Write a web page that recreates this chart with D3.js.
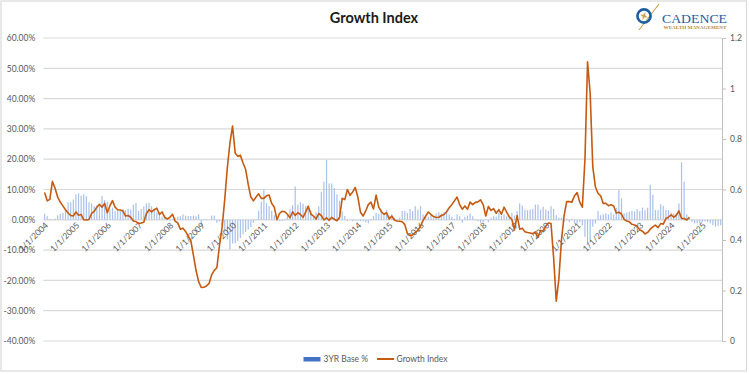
<!DOCTYPE html>
<html lang="en">
<head>
    <meta charset="UTF-8">
    <title>Growth Index</title>
    <script src="https://cdn.jsdelivr.net/npm/d3@7"></script>
    <style>
        body { margin: 0; background: #fff; }
        text { font-family: Lato, "Open Sans", sans-serif; }
    </style>
</head>
<body>
<script>
    var width = 749
    var height = 374

    // one category per month, Jan 2004 .. Aug 2025
    var months = d3.timeMonth.range(new Date(2004, 0, 1), new Date(2025, 8, 1));

    var yearLabels = ['1/1/2004', '1/1/2005', '1/1/2006', '1/1/2007', '1/1/2008', '1/1/2009',
        '1/1/2010', '1/1/2011', '1/1/2012', '1/1/2013', '1/1/2014', '1/1/2015', '1/1/2016',
        '1/1/2017', '1/1/2018', '1/1/2019', '1/1/2020', '1/1/2021', '1/1/2022', '1/1/2023',
        '1/1/2024', '1/1/2025'];

    var leftTicks = [-0.4, -0.3, -0.2, -0.1, 0, 0.1, 0.2, 0.3, 0.4, 0.5, 0.6];
    var rightTicks = [0, 0.2, 0.4, 0.6, 0.8, 1, 1.2];

    // 3YR Base %, in percent
    var base3yr = [
        2.0, 1.2, 0.3, 0.2, 0.4, 1.5, 2.0, 2.3, 3.2, 5.8, 5.8, 6.7,
        8.4, 8.7, 8.0, 8.4, 7.8, 5.8, 5.4, 4.5, 4.7, 4.5, 7.8, 6.5,
        6.0, 3.4, 4.0, 2.9, 3.4, 2.9, 3.6, 3.2, 3.6, 3.4, 5.0, 5.6,
        2.9, 3.6, 4.4, 5.4, 5.6, 4.5, 3.4, 2.4, 2.5, 1.0, 1.4, 0.7,
        0.3, 0.3, 0.7, 1.0, 1.2, 1.8, 1.4, 1.2, 1.2, 1.4, 1.2, 1.8,
        -1.9, 0.3, 0.3, 0.1, 1.4, 1.4, -1.0, -0.5, -2.0, -4.0, -6.5, -9.8,
        -7.8, -7.8, -7.0, -6.0, -4.8, -4.0, -3.2, -2.4, -1.0, 0.3, 3.0, 6.0,
        10.0, 5.5, 4.5, 3.0, 1.5, 0.3, -0.4, -0.4, 0.3, 1.5, 3.5, 4.8,
        11.0, 5.0, 5.8, 5.3, 4.6, 4.2, 3.0, 1.0, 2.5, 4.5, 9.3, 12.6,
        19.8, 12.0, 12.0, 10.5, 8.4, 6.3, 2.8, 1.3, -0.4, -0.1, -0.4, -0.2,
        -0.2, -0.4, -0.5, -0.8, -1.2, 0.3, 1.2, 2.3, 2.0, 3.4, 2.3, 3.2,
        1.4, 1.8, 0.7, 0.3, 0.7, 2.9, 2.9, 2.3, 3.6, 2.9, 4.5, 3.4,
        4.5, 1.8, 1.0, 1.0, 1.4, 0.7, 2.1, 2.5, 2.1, 2.5, 2.9, 1.8,
        1.0, 0.3, 1.8, 1.2, -1.0, 1.0, 1.4, 2.1, 1.2, 0.3, -0.4, -1.0,
        -0.8, 0.1, -0.8, 0.7, 1.2, 1.0, 2.3, 1.4, 1.8, 1.2, 1.0, 2.3,
        1.4, 2.9, 5.4, 4.7, 3.4, 3.2, 3.4, 3.6, 5.0, 5.0, 3.4, 4.3,
        3.4, 2.9, 4.5, 3.6, 1.5, 0.7, 0.7, -0.7, 0.4, -0.7, 0.4, -1.2,
        -1.2, -0.7, -1.8, -5.6, -8.4, -6.7, -2.3, -1.2, 2.9, 1.5, 1.8, 2.1,
        1.8, 2.4, 1.8, 4.0, 9.8, 7.1, 2.1, 2.4, 2.7, 2.9, 2.7, 3.5,
        2.9, 4.0, 3.2, 4.0, 11.5, 8.2, 3.2, 3.2, 5.1, 4.6, 3.2, 3.2,
        2.4, 2.1, 2.1, 5.4, 19.0, 12.6, 1.8, 0.8, -0.7, -1.2, -1.2, -1.2,
        -0.7, -0.5, -0.7, -1.2, -1.8, -2.3, -2.0, -1.8
    ];

    // Growth Index (right axis), Jan 2004 .. Aug 2024
    var growthIndex = [
        0.588, 0.555, 0.561, 0.632, 0.605, 0.570, 0.550, 0.535, 0.520, 0.507, 0.497, 0.495,
        0.511, 0.498, 0.501, 0.480, 0.479, 0.481, 0.505, 0.513, 0.530, 0.541, 0.530, 0.545,
        0.508, 0.535, 0.556, 0.530, 0.520, 0.519, 0.515, 0.495, 0.497, 0.490, 0.475, 0.473,
        0.466, 0.467, 0.470, 0.505, 0.520, 0.511, 0.520, 0.526, 0.501, 0.511, 0.490, 0.483,
        0.490, 0.502, 0.474, 0.468, 0.443, 0.447, 0.434, 0.415, 0.398, 0.340, 0.280, 0.235,
        0.212, 0.213, 0.218, 0.228, 0.262, 0.280, 0.290, 0.380, 0.450, 0.560, 0.686, 0.785,
        0.851, 0.745, 0.732, 0.736, 0.705, 0.680, 0.620, 0.570, 0.555, 0.570, 0.583, 0.565,
        0.565, 0.575, 0.578, 0.545, 0.530, 0.480, 0.505, 0.514, 0.512, 0.502, 0.488, 0.512,
        0.497, 0.508, 0.501, 0.490, 0.510, 0.534, 0.503, 0.495, 0.483, 0.505, 0.497, 0.480,
        0.488, 0.478, 0.490, 0.482, 0.476, 0.490, 0.565, 0.560, 0.600, 0.577, 0.590, 0.608,
        0.570, 0.510, 0.495, 0.515, 0.540, 0.550, 0.523, 0.578, 0.530, 0.512, 0.502, 0.508,
        0.483, 0.495, 0.479, 0.475, 0.474, 0.472, 0.461, 0.425, 0.417, 0.420, 0.430, 0.438,
        0.455, 0.478, 0.495, 0.511, 0.501, 0.493, 0.489, 0.490, 0.497, 0.501, 0.512, 0.528,
        0.540, 0.555, 0.570, 0.540, 0.522, 0.535, 0.522, 0.550, 0.540, 0.549, 0.551, 0.559,
        0.540, 0.495, 0.533, 0.517, 0.524, 0.506, 0.520, 0.502, 0.530, 0.510, 0.492, 0.481,
        0.440, 0.497, 0.443, 0.447, 0.433, 0.430, 0.428, 0.425, 0.432, 0.410, 0.438, 0.435,
        0.455, 0.467, 0.465, 0.330, 0.158, 0.245, 0.400, 0.495, 0.552, 0.552, 0.550, 0.575,
        0.588, 0.550, 0.530, 0.720, 1.106, 0.980, 0.690, 0.610, 0.585, 0.575, 0.545, 0.545,
        0.536, 0.540, 0.535, 0.507, 0.510, 0.503, 0.482, 0.475, 0.472, 0.462, 0.459, 0.455,
        0.440, 0.435, 0.424, 0.430, 0.443, 0.452, 0.459, 0.449, 0.465, 0.463, 0.485, 0.490,
        0.500, 0.490, 0.498, 0.515, 0.485, 0.485, 0.479, 0.490
    ];

    var plotLeft = 43.3, plotRight = 722, plotTop = 38, plotBottom = 341;
    var barColor = '#a9c1ea', lineColor = '#c55a11', grey = '#595959';

    var svg = d3.select('body')
        .append('svg')
        .attr('width', width)
        .attr('height', height);

    svg.append('rect')
        .attr('x', 1).attr('y', 1)
        .attr('width', 745.5).attr('height', 370)
        .attr('fill', '#fff')
        .attr('stroke', '#d9d9d9')
        .attr('stroke-width', 1.2);

    var x = d3.scaleBand()
        .domain(d3.range(months.length))
        .range([plotLeft, plotRight]);
    var bw = x.bandwidth();

    var yL = d3.scaleLinear().domain([-0.4, 0.6]).range([plotBottom, plotTop]);
    var yR = d3.scaleLinear().domain([0, 1.2]).range([plotBottom, plotTop]);

    // horizontal gridlines
    svg.append('g')
        .selectAll('line')
        .data(leftTicks)
        .join('line')
        .attr('x1', plotLeft)
        .attr('x2', plotRight)
        .attr('y1', d => yL(d))
        .attr('y2', d => yL(d))
        .attr('stroke', '#d9d9d9')
        .attr('stroke-width', 1.2);

    // left axis, percent labels
    var pct = d3.format('.2%');
    var leftAxis = svg.append('g')
        .attr('transform', 'translate(' + plotLeft + ',0)')
        .call(d3.axisLeft(yL).tickValues(leftTicks).tickSize(0).tickPadding(8)
            .tickFormat(d => pct(d).replace('\u2212', '-')));
    leftAxis.select('.domain').remove();
    leftAxis.selectAll('text')
        .attr('fill', grey)
        .style('font-size', '8.5px');

    // right axis
    var rightAxis = svg.append('g')
        .attr('transform', 'translate(' + plotRight + ',0)')
        .call(d3.axisRight(yR).tickValues(rightTicks).tickSize(4).tickSizeOuter(0).tickPadding(4)
            .tickFormat(d => String(d)));
    rightAxis.select('.domain').attr('stroke', '#bfbfbf');
    rightAxis.selectAll('line').attr('stroke', '#bfbfbf');
    rightAxis.selectAll('text')
        .attr('fill', grey)
        .style('font-size', '8.5px');

    // bars
    svg.append('g')
        .selectAll('rect')
        .data(base3yr)
        .join('rect')
        .attr('x', (d, i) => x(i) + bw / 2 - 0.6)
        .attr('width', 1.2)
        .attr('y', d => Math.min(yL(d / 100), yL(0)))
        .attr('height', d => Math.abs(yL(d / 100) - yL(0)))
        .attr('fill', barColor);

    // year labels on the category axis
    svg.append('g')
        .selectAll('text')
        .data(yearLabels)
        .join('text')
        .attr('transform', (d, k) => 'translate(' + (x(k * 12) + bw / 2 + 2) + ',' + (yL(0) + 4) + ') rotate(-45)')
        .attr('text-anchor', 'end')
        .attr('dy', '0.35em')
        .attr('fill', grey)
        .style('font-size', '8.5px')
        .text(d => d);

    // growth index line
    var line = d3.line()
        .x((d, i) => x(i) + bw / 2)
        .y(d => yR(d));

    svg.append('path')
        .datum(growthIndex)
        .attr('d', line)
        .attr('fill', 'none')
        .attr('stroke', lineColor)
        .attr('stroke-width', 1.6)
        .attr('stroke-linejoin', 'round');

    // title
    svg.append('text')
        .attr('x', 374)
        .attr('y', 23)
        .attr('text-anchor', 'middle')
        .style('font-size', '14.5px')
        .style('font-weight', 'bold')
        .attr('fill', '#1a1a1a')
        .text('Growth Index');

    // legend
    var legend = svg.append('g');
    legend.append('rect')
        .attr('x', 303.5).attr('y', 357)
        .attr('width', 17).attr('height', 4.5)
        .attr('fill', '#4472c4');
    legend.append('text')
        .attr('x', 323.5).attr('y', 362)
        .attr('fill', grey)
        .style('font-size', '8.5px')
        .text('3YR Base %');
    legend.append('line')
        .attr('x1', 377).attr('x2', 394)
        .attr('y1', 359).attr('y2', 359)
        .attr('stroke', lineColor)
        .attr('stroke-width', 2);
    legend.append('text')
        .attr('x', 396.5).attr('y', 362)
        .attr('fill', grey)
        .style('font-size', '8.5px')
        .text('Growth Index');

    // logo
    var logo = svg.append('g');
    logo.append('line')
        .attr('x1', 639).attr('y1', 30)
        .attr('x2', 659).attr('y2', 4)
        .attr('stroke', '#c9a24a')
        .attr('stroke-width', 1.1);
    logo.append('circle')
        .attr('cx', 644).attr('cy', 16)
        .attr('r', 6.6)
        .attr('fill', 'none')
        .attr('stroke', '#1d5e9f')
        .attr('stroke-width', 2.6);
    logo.append('path')
        .attr('transform', 'translate(644,16) rotate(20)')
        .attr('d', 'M0,-4.2L1,-1L4.2,0L1,1L0,4.2L-1,1L-4.2,0L-1,-1Z')
        .attr('fill', '#c9a24a');
    logo.append('text')
        .attr('x', 662).attr('y', 22.5)
        .attr('textLength', 65)
        .attr('lengthAdjust', 'spacingAndGlyphs')
        .style('font-family', '"Liberation Serif", "DejaVu Serif", serif')
        .style('font-size', '13.5px')
        .attr('fill', '#1f5e9e')
        .text('CADENCE');
    logo.append('text')
        .attr('x', 663.5).attr('y', 28.5)
        .attr('textLength', 63)
        .attr('lengthAdjust', 'spacingAndGlyphs')
        .style('font-family', '"Liberation Serif", "DejaVu Serif", serif')
        .style('font-size', '4.6px')
        .style('font-weight', 'bold')
        .attr('fill', '#b08a3e')
        .text('WEALTH MANAGEMENT');
</script>
</body>
</html>
